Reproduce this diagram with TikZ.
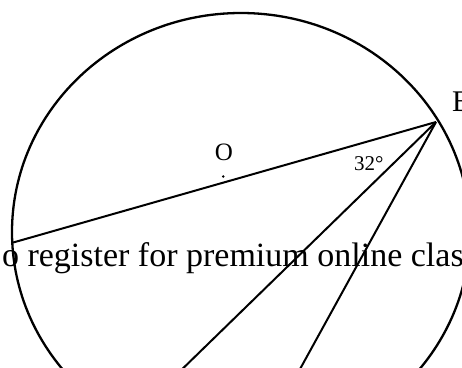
\documentclass[tikz,border=0pt]{standalone}
\usepackage{fontspec}
\setmainfont{Liberation Serif}
\begin{document}
\begin{tikzpicture}[x=1pt,y=-1pt,
  geo/.style={line width=2.3pt,black},
  chord/.style={line width=2pt,black},
  lbl/.style={inner sep=0pt,outer sep=0pt}]
\useasboundingbox (0,0) rectangle (462,367);
\clip (0,0) rectangle (462,367);
% points
\coordinate (C) at (241,232);
\coordinate (B) at (436,122);
\coordinate (A) at (12.5,242.7);
\coordinate (P) at (171,380);
\coordinate (Q) at (294,380);
\coordinate (Odot) at (223.3,176.5);
% circle
\draw[geo] (C) ellipse [x radius=229, y radius=219];
% chords
\draw[chord] (A) -- (B);
\draw[chord] (B) -- (P);
\draw[chord] (B) -- (Q);
% centre dot
\fill (Odot) circle [radius=1.4];
% labels
\node[lbl,anchor=base] (O) at (224,160) {\fontsize{25}{25}\selectfont O};
\node[lbl,anchor=base west] (Bl) at (452,111.7) {\fontsize{30}{30}\selectfont B};
\node[lbl,anchor=base west] (ang) at (354,170.7) {\fontsize{21}{21}\selectfont 32°};
\node[lbl,anchor=base west] (txt) at (2,266.7) {\fontsize{34}{34}\selectfont o register for premium online clas};
\end{tikzpicture}
\end{document}
